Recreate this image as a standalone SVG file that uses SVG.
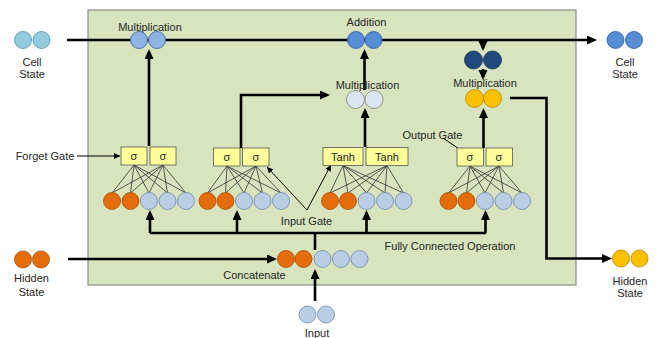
<svg xmlns="http://www.w3.org/2000/svg" width="657" height="338" viewBox="0 0 657 338">
<defs>
<marker id="ah" markerUnits="userSpaceOnUse" markerWidth="11" markerHeight="10" refX="7" refY="4.5" orient="auto"><path d="M0,0 L10,4.5 L0,9 z" fill="#000"/></marker>
<marker id="sh" markerUnits="userSpaceOnUse" markerWidth="7" markerHeight="7" refX="6" refY="3" orient="auto"><path d="M0,0 L6,3 L0,6 z" fill="#000"/></marker>
<style>
text{font-family:"Liberation Sans",Arial,sans-serif;font-size:11px;fill:#262626;text-anchor:middle}
.thick{fill:none;stroke:#000;stroke-width:2.6}
.arr{marker-end:url(#ah)}
.thin{fill:none;stroke:#000;stroke-width:1;marker-end:url(#sh)}
.fan{fill:none;stroke:#333;stroke-width:0.8}
.box{fill:#ffff99;stroke:#555;stroke-width:0.8}
.or{fill:#e46c0a;stroke:#a94f08;stroke-width:0.8}
.lb{fill:#b9cde5;stroke:#6f8aaa;stroke-width:0.8}
.cy{fill:#93cddd;stroke:#4f8fa0;stroke-width:0.8}
.mb{fill:#8eb4e3;stroke:#385d8a;stroke-width:0.8}
.bl{fill:#558ed5;stroke:#2f5597;stroke-width:0.8}
.nv{fill:#1f497d;stroke:#16365c;stroke-width:0.8}
.vl{fill:#dce6f2;stroke:#7f7f7f;stroke-width:0.8}
.ye{fill:#ffc000;stroke:#b58a00;stroke-width:0.8}
</style>
</defs>
<rect id="panel" x="88" y="10" width="488" height="275" fill="#d7e4bd" stroke="#8c8c8c" stroke-width="1.2"/>
<g id="connectors">
<path class="thick arr" d="M67 40 H594"/>
<path class="thick arr" d="M149 146 V52"/>
<path class="thick arr" d="M364.5 90 V52"/>
<path class="thick arr" d="M241 148 V95 H327"/>
<path class="thick arr" d="M365 147 V111"/>
<path class="thick arr" d="M483 40 V48"/>
<path class="thick arr" d="M483 69 V77"/>
<path class="thick arr" d="M483.5 148 V111"/>
<path class="thick arr" d="M510 98 H546.5 V258.5 H609"/>
<path class="thick arr" d="M68 259 H274"/>
<path class="thick arr" d="M315 301 V272"/>
<path class="thick" d="M315 250 V233 M150 233 H486"/>
<path class="thick arr" d="M150 233 V213"/>
<path class="thick arr" d="M237 233 V213"/>
<path class="thick arr" d="M366.5 233 V213"/>
<path class="thick arr" d="M485.5 233 V213"/>
<path class="thin" d="M77 156 H120"/>
<path class="thin" d="M443 138 L465 153"/>
<path class="thin" d="M307 210 L267 167"/>
<path class="thin" d="M307 210 L331 165"/>
<path class="fan" d="M134 165L112 193M134 165L130.5 193M134 165L149 193M134 165L167.5 193M134 165L186 193M163 165L112 193M163 165L130.5 193M163 165L149 193M163 165L167.5 193M163 165L186 193"/>
<path class="fan" d="M227 166L207.5 193M227 166L225.5 193M227 166L244 193M227 166L262.5 193M227 166L281 193M256 166L207.5 193M256 166L225.5 193M256 166L244 193M256 166L262.5 193M256 166L281 193"/>
<path class="fan" d="M343 165.5L330 193M343 165.5L348 193M343 165.5L366.5 193M343 165.5L385 193M343 165.5L403.5 193M387 165.5L330 193M387 165.5L348 193M387 165.5L366.5 193M387 165.5L385 193M387 165.5L403.5 193"/>
<path class="fan" d="M470 166L448.5 193M470 166L466.5 193M470 166L485 193M470 166L503.5 193M470 166L522 193M499 166L448.5 193M499 166L466.5 193M499 166L485 193M499 166L503.5 193M499 166L522 193"/>
</g>
<g id="cell-state-in"><circle class="cy" cx="23" cy="40" r="8.5"/><circle class="cy" cx="41.5" cy="40" r="8.5"/><text x="32" y="66">Cell</text><text x="32" y="78">State</text></g>
<g id="mult-forget"><text x="150" y="31">Multiplication</text><circle class="mb" cx="139" cy="40" r="8.5"/><circle class="mb" cx="157" cy="40" r="8.5"/></g>
<g id="addition"><text x="366.5" y="26">Addition</text><circle class="bl" cx="356" cy="40" r="8.5"/><circle class="bl" cx="373.5" cy="40" r="8.5"/></g>
<g id="mult-input"><text x="367.5" y="89">Multiplication</text><circle class="vl" cx="355.5" cy="99.5" r="9"/><circle class="vl" cx="374" cy="99.5" r="9"/></g>
<g id="tanh-cell"><circle class="nv" cx="473.5" cy="60" r="9"/><circle class="nv" cx="492.5" cy="60" r="9"/></g>
<g id="mult-output"><text x="485" y="87">Multiplication</text><circle class="ye" cx="474.5" cy="98.5" r="9"/><circle class="ye" cx="492.5" cy="98.5" r="9"/></g>
<g id="cell-state-out"><circle class="bl" cx="615.5" cy="40" r="8.5"/><circle class="bl" cx="634" cy="40" r="8.5"/><text x="625" y="66">Cell</text><text x="625" y="78">State</text></g>
<g id="forget-gate"><text x="45" y="160">Forget Gate</text>
<rect class="box" x="121" y="147" width="26" height="18"/><rect class="box" x="150" y="147" width="26" height="18"/>
<text x="134" y="160">σ</text><text x="163" y="160">σ</text>
<circle class="or" cx="112" cy="201" r="8.5"/><circle class="or" cx="130.5" cy="201" r="8.5"/><circle class="lb" cx="149" cy="201" r="8.5"/><circle class="lb" cx="167.5" cy="201" r="8.5"/><circle class="lb" cx="186" cy="201" r="8.5"/></g>
<g id="input-gate-sigma">
<rect class="box" x="213.5" y="148" width="26.5" height="18"/><rect class="box" x="242.5" y="148" width="26.5" height="18"/>
<text x="227" y="161">σ</text><text x="256" y="161">σ</text>
<circle class="or" cx="207.5" cy="201" r="8.5"/><circle class="or" cx="225.5" cy="201" r="8.5"/><circle class="lb" cx="244" cy="201" r="8.5"/><circle class="lb" cx="262.5" cy="201" r="8.5"/><circle class="lb" cx="281" cy="201" r="8.5"/></g>
<g id="input-gate-tanh">
<rect class="box" x="323" y="147.5" width="40" height="18"/><rect class="box" x="366" y="147.5" width="42" height="18"/>
<text x="343" y="160.5">Tanh</text><text x="387" y="160.5">Tanh</text>
<circle class="or" cx="330" cy="201" r="8.5"/><circle class="or" cx="348" cy="201" r="8.5"/><circle class="lb" cx="366.5" cy="201" r="8.5"/><circle class="lb" cx="385" cy="201" r="8.5"/><circle class="lb" cx="403.5" cy="201" r="8.5"/></g>
<g id="input-gate-label"><text x="306.5" y="224.5">Input Gate</text></g>
<g id="output-gate"><text x="432.5" y="139">Output Gate</text>
<rect class="box" x="457" y="148" width="26.5" height="18"/><rect class="box" x="486" y="148" width="26.5" height="18"/>
<text x="470" y="161">σ</text><text x="499" y="161">σ</text>
<circle class="or" cx="448.5" cy="201" r="8.5"/><circle class="or" cx="466.5" cy="201" r="8.5"/><circle class="lb" cx="485" cy="201" r="8.5"/><circle class="lb" cx="503.5" cy="201" r="8.5"/><circle class="lb" cx="522" cy="201" r="8.5"/></g>
<g id="fc-label"><text x="450" y="249.5">Fully Connected Operation</text></g>
<g id="concatenate"><text x="254.5" y="279">Concatenate</text>
<circle class="or" cx="286" cy="259" r="8.5"/><circle class="or" cx="303.5" cy="259" r="8.5"/><circle class="lb" cx="322.5" cy="259" r="8.5"/><circle class="lb" cx="341" cy="259" r="8.5"/><circle class="lb" cx="359.5" cy="259" r="8.5"/></g>
<g id="hidden-state-in"><circle class="or" cx="23" cy="259.5" r="8.5"/><circle class="or" cx="41" cy="259.5" r="8.5"/><text x="31.5" y="282">Hidden</text><text x="31.5" y="295.5">State</text></g>
<g id="input"><circle class="lb" cx="307.5" cy="314.5" r="8.5"/><circle class="lb" cx="326" cy="314.5" r="8.5"/><text x="317" y="337">Input</text></g>
<g id="hidden-state-out"><circle class="ye" cx="621" cy="258.5" r="8.5"/><circle class="ye" cx="639.5" cy="258.5" r="8.5"/><text x="630" y="284.5">Hidden</text><text x="630" y="297">State</text></g>
</svg>
